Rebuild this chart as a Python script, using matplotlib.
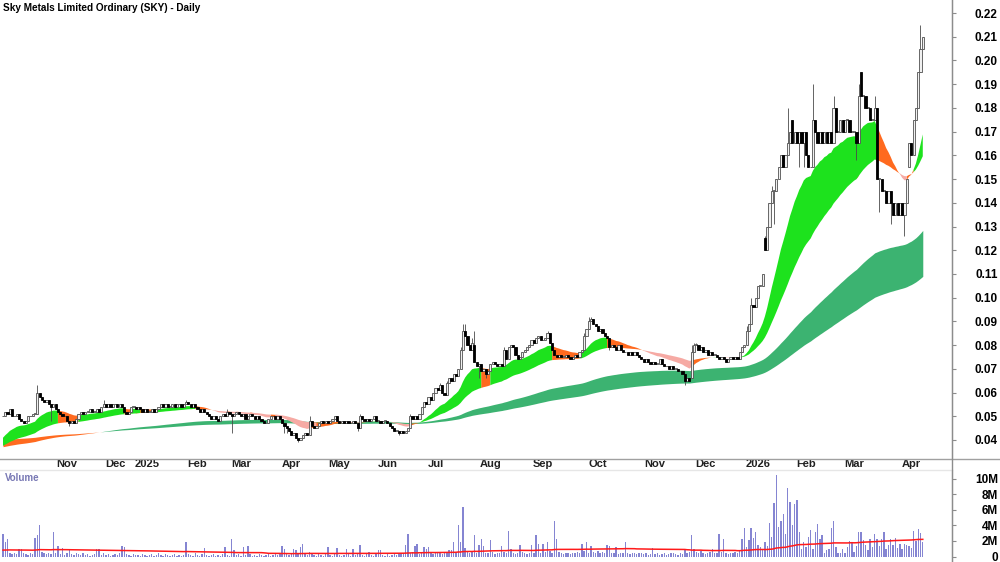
import numpy as np
import matplotlib
matplotlib.use("Agg")
import matplotlib.pyplot as plt
from matplotlib.lines import Line2D
from matplotlib.transforms import blended_transform_factory

plt.rcParams['font.family'] = ['Liberation Sans', 'DejaVu Sans']

# daily closes in thousandths of a dollar, one per trading day
close_mils = [
    50, 52, 51, 53, 50, 50, 51, 49, 48, 47,
    48, 50, 50, 51, 51, 60, 58, 57, 56, 57,
    55, 54, 55, 53, 52, 51, 50, 50, 48, 47,
    48, 47, 49, 51, 52, 51, 52, 52, 53, 52,
    52, 53, 52, 54, 55, 54, 55, 54, 55, 55,
    54, 55, 54, 52, 51, 52, 54, 54, 53, 54,
    53, 52, 53, 52, 52, 53, 52, 53, 54, 55,
    54, 55, 54, 54, 55, 54, 55, 55, 54, 55,
    56, 55, 54, 55, 54, 53, 52, 53, 52, 51,
    50, 49, 50, 49, 48, 50, 51, 50, 52, 51,
    50, 51, 52, 51, 50, 51, 49, 50, 51, 50,
    49, 50, 49, 48, 47, 47, 49, 50, 50, 49,
    50, 49, 47, 46, 45, 44, 42, 43, 41, 40,
    41, 42, 43, 42, 48, 46, 45, 46, 47, 48,
    47, 48, 47, 48, 49, 50, 48, 47, 48, 47,
    48, 47, 47, 48, 47, 45, 50, 49, 48, 49,
    48, 49, 50, 48, 48, 47, 48, 48, 47, 46,
    45, 44, 44, 43, 44, 43, 44, 45, 50, 49,
    50, 49, 51, 54, 56, 55, 58, 57, 60, 62,
    61, 63, 60, 59, 64, 66, 65, 68, 67, 70,
    78, 86, 84, 80, 78, 81, 73, 71, 72, 69,
    70, 68, 69, 72, 73, 72, 71, 72, 71, 78,
    74, 79, 80, 79, 76, 74, 75, 77, 78, 79,
    80, 82, 81, 83, 84, 82, 82, 83, 85, 81,
    78, 76, 75, 76, 75, 75, 76, 75, 74, 75,
    76, 75, 77, 78, 84, 87, 90, 91, 89, 88,
    86, 87, 85, 84, 83, 79, 80, 79, 78, 80,
    78, 77, 77, 76, 77, 76, 77, 76, 75, 74,
    73, 74, 73, 72, 73, 72, 72, 74, 72, 71,
    71, 70, 71, 70, 70, 69, 69, 68, 65, 66,
    65, 77, 80, 80, 78, 79, 77, 78, 76, 77,
    76, 76, 75, 74, 75, 74, 73, 74, 75, 74,
    75, 74, 77, 79, 80, 86, 89, 97, 96, 100,
    105, 105, 110, 120, 130, 140, 145, 145, 150, 155,
    160, 155, 160, 165, 170, 165, 170, 165, 170, 165,
    170, 160, 155, 155, 175, 170, 165, 170, 165, 170,
    165, 170, 165, 180, 170, 170, 175, 170, 175, 175,
    170, 170, 170, 165, 185, 185, 185, 180, 180, 175,
    175, 180, 150, 150, 145, 145, 140, 145, 140, 135,
    140, 135, 140, 135, 140, 150, 165, 160, 175, 180,
    195, 205, 210,
]
# opens that did not start at the previous close
open_mils = {206: 80, 301: 66, 333: 125, 345: 175, 375: 195, 396: 155}
# wick ends that stick out past the body
high_mils = {15: 63, 16: 60, 44: 57, 80: 57, 98: 53, 134: 50, 156: 51, 178: 51,
             191: 64, 194: 65, 200: 79, 201: 89, 202: 89, 205: 83, 206: 86, 219: 79,
             238: 86, 254: 85, 256: 92, 257: 92, 301: 80, 302: 81, 303: 81, 325: 88,
             327: 100, 333: 126, 336: 147, 343: 180, 354: 190, 363: 185, 374: 190,
             375: 195, 381: 185, 401: 215}
low_mils = {21: 48, 29: 46, 100: 43, 123: 43, 124: 43, 129: 39, 155: 44, 173: 42,
            208: 66, 211: 66, 265: 78, 298: 63, 337: 131, 348: 155, 350: 155,
            373: 158, 383: 136, 388: 131, 394: 126}

# daily volume in units of 100k shares
volume_100k = [
    29, 19, 23, 4, 3, 5, 3, 10, 10, 4, 3, 2, 5, 3, 24, 28, 40, 6, 4, 3,
    5, 3, 32, 4, 14, 3, 11, 2, 4, 10, 3, 2, 4, 3, 2, 5, 2, 3, 1, 2,
    3, 10, 9, 2, 4, 2, 3, 1, 2, 3, 2, 4, 14, 12, 3, 2, 1, 3, 2, 2,
    1, 3, 2, 1, 2, 3, 1, 2, 4, 2, 1, 3, 2, 1, 2, 3, 1, 2, 1, 2,
    18, 3, 2, 1, 4, 2, 1, 3, 11, 2, 1, 2, 3, 1, 2, 1, 3, 12, 2, 1,
    22, 8, 2, 3, 1, 12, 2, 14, 3, 1, 2, 1, 3, 2, 1, 2, 3, 1, 2, 4,
    2, 3, 14, 9, 3, 2, 4, 10, 8, 3, 12, 16, 4, 2, 6, 3, 2, 1, 3, 2,
    1, 3, 12, 2, 1, 3, 11, 2, 1, 2, 10, 3, 1, 10, 2, 3, 15, 2, 1, 3,
    6, 2, 1, 3, 8, 8, 2, 1, 3, 1, 2, 3, 2, 4, 3, 5, 15, 29, 4, 6,
    13, 16, 3, 4, 12, 10, 12, 5, 3, 6, 4, 5, 3, 6, 4, 8, 8, 18, 5, 40,
    18, 64, 11, 7, 5, 6, 27, 4, 15, 23, 13, 5, 4, 21, 6, 3, 5, 4, 14, 6,
    5, 33, 10, 4, 3, 5, 15, 6, 4, 3, 5, 15, 4, 28, 16, 5, 16, 6, 18, 7,
    5, 45, 23, 6, 4, 3, 5, 4, 3, 5, 4, 6, 5, 16, 7, 19, 5, 13, 6, 5,
    7, 4, 6, 5, 15, 14, 4, 5, 12, 3, 4, 5, 19, 4, 3, 5, 4, 3, 4, 5,
    3, 4, 2, 3, 11, 3, 4, 2, 3, 4, 2, 3, 4, 5, 3, 2, 4, 3, 8, 5,
    6, 27, 9, 6, 4, 7, 5, 3, 4, 6, 10, 4, 5, 29, 6, 22, 4, 3, 5, 4,
    6, 5, 8, 23, 37, 12, 21, 36, 24, 32, 15, 12, 9, 19, 14, 43, 25, 68, 104, 38,
    46, 55, 29, 88, 70, 40, 67, 72, 32, 10, 18, 12, 25, 34, 10, 31, 42, 23, 27, 5,
    8, 10, 37, 46, 12, 5, 5, 9, 4, 12, 20, 18, 6, 14, 32, 32, 21, 15, 8, 23,
    12, 29, 23, 14, 23, 31, 9, 15, 23, 15, 24, 11, 16, 10, 16, 15, 14, 11, 33, 20,
    35, 30, 18,
]

# first bar of each month on the date axis
month_bars = [28, 49, 63, 85, 104, 126, 147, 168, 189, 213, 236, 260, 285, 307,
              330, 351, 372, 397]
month_names = ['Nov', 'Dec', '2025', 'Feb', 'Mar', 'Apr', 'May', 'Jun', 'Jul',
               'Aug', 'Sep', 'Oct', 'Nov', 'Dec', '2026', 'Feb', 'Mar', 'Apr']
price_ticks = [0.04, 0.05, 0.06, 0.07, 0.08, 0.09, 0.10, 0.11, 0.12, 0.13, 0.14,
               0.15, 0.16, 0.17, 0.18, 0.19, 0.20, 0.21, 0.22]
volume_ticks = [0, 2, 4, 6, 8, 10]

# moving average levels at the left edge (history before the window)
ema_seed = {20: 0.040, 50: 0.037, 150: 0.037, 250: 0.040}
vol_ma_seed = 0.8


def ema(series, span, seed):
    a = 2.0 / (span + 1)
    out = np.empty(len(series))
    cur = seed
    for i, v in enumerate(series):
        cur += a * (v - cur)
        out[i] = cur
    return out


def sma(series, window, seed):
    padded = np.r_[np.full(window - 1, seed), series]
    c = np.cumsum(np.r_[0.0, padded])
    return (c[window:] - c[:-window]) / window


def spread(mask):
    m = mask.copy()
    m[1:] |= mask[:-1]
    return m


close = np.array(close_mils) / 1000.0
n = len(close)
x = np.arange(n)
opn = np.concatenate([[close[0]], close[:-1]])
for k, v in open_mils.items():
    opn[k] = v / 1000.0
top = np.maximum(opn, close)
bot = np.minimum(opn, close)
high = top.copy()
low = bot.copy()
for k, v in high_mils.items():
    high[k] = max(high[k], v / 1000.0)
for k, v in low_mils.items():
    low[k] = min(low[k], v / 1000.0)
vol = np.array(volume_100k) / 10.0

fast = ema(close, 20, ema_seed[20])
slow = ema(close, 50, ema_seed[50])
lfast = ema(close, 150, ema_seed[150])
lslow = ema(close, 250, ema_seed[250])
vol_ma = sma(vol, 100, vol_ma_seed)

GREEN = '#1de21d'
ORANGE = '#ff6a1f'
PINK = '#f6aaa4'
SEA = '#3cb371'

W, H = 1000.0, 562.0
PX = 2.288           # pixels per bar
X0 = 3.0             # pixel of first bar
xlim = (-X0 / PX, (952 - X0) / PX)

fig = plt.figure(figsize=(10, 5.62), dpi=100)
ax = fig.add_axes([0, 1 - 459 / H, 952 / W, 459 / H])
axv = fig.add_axes([0, 0, 952 / W, 92 / H])

# long ribbon
lup = lfast >= lslow
ax.fill_between(x, lfast, lslow, where=spread(lup), color=SEA, lw=0, zorder=1)
ax.fill_between(x, lfast, lslow, where=spread(~lup), color=ORANGE, lw=0, zorder=1)

# short ribbon: green rising above, pink falling below, orange when mixed
above = fast >= slow
rising = np.r_[True, np.diff(fast) >= 0]
state = np.full(n, 1)
state[above & rising] = 0
state[~above & ~rising] = 2
for k, col in ((1, ORANGE), (2, PINK), (0, GREEN)):
    ax.fill_between(x, fast, slow, where=spread(state == k), color=col, lw=0, zorder=2)

# candles
rise = close >= opn
body = np.maximum(top - bot, 0.0003)
ax.vlines(x, low, high, color='#4a4a4a', lw=0.6, zorder=3)
ax.bar(x[rise], body[rise], bottom=bot[rise], width=0.95, color='#f0f0f0',
       edgecolor='#505050', lw=0.6, zorder=4)
ax.bar(x[~rise], body[~rise], bottom=bot[~rise], width=0.95, color='black',
       edgecolor='black', lw=0.6, zorder=4)

ax.set_xlim(*xlim)
ax.set_ylim(0.04 - 19 / 2372.0, 0.04 + 440 / 2372.0)
for a in (ax, axv):
    a.set_facecolor('none')
    for s in ('top', 'left', 'bottom'):
        a.spines[s].set_visible(False)
    a.spines['right'].set_color('#8c8c8c')
    a.set_xticks([])
    a.yaxis.tick_right()
    a.tick_params(axis='y', direction='out', length=3, color='#8c8c8c',
                  pad=30, labelsize=8.5)

ax.set_yticks(price_ticks)
ax.set_yticklabels([f'{t:.2f}' for t in price_ticks], fontweight='bold')
for lbl in ax.get_yticklabels():
    lbl.set_horizontalalignment('right')

tr = blended_transform_factory(ax.transData, ax.transAxes)
for b, name in zip(month_bars, month_names):
    ax.text(b, -5 / 459, name, transform=tr, ha='center', va='center',
            fontsize=8, fontweight='bold', color='#202020', clip_on=False)

# volume
axv.bar(x, vol, width=0.6, color='#8585d2', lw=0, zorder=2)
axv.plot(x, vol_ma, color='#ff1a1a', lw=1.1, zorder=3)
axv.set_xlim(*xlim)
axv.set_ylim(-5.5 / 7.8, 86.5 / 7.8)
axv.set_yticks(volume_ticks)
axv.set_yticklabels(['0' if t == 0 else f'{t}M' for t in volume_ticks], fontweight='bold')
for lbl in axv.get_yticklabels():
    lbl.set_horizontalalignment('right')

fig.add_artist(Line2D([0, 1], [1 - 459 / H] * 2, color='#a0a0a0', lw=1))
fig.add_artist(Line2D([0, 952 / W], [92 / H] * 2, color='#e6e6e6', lw=1))
fig.add_artist(Line2D([952 / W] * 2, [0, 1], color='#8c8c8c', lw=1))

fig.text(3 / W, 1 - 8 / H, 'Sky Metals Limited Ordinary (SKY) - Daily',
         fontsize=7.2, fontweight='bold', va='center', ha='left')
fig.text(5 / W, 1 - 478 / H, 'Volume', fontsize=7, fontweight='bold',
         color='#7878b4', va='center', ha='left')

fig.savefig('out.png', dpi=100)
